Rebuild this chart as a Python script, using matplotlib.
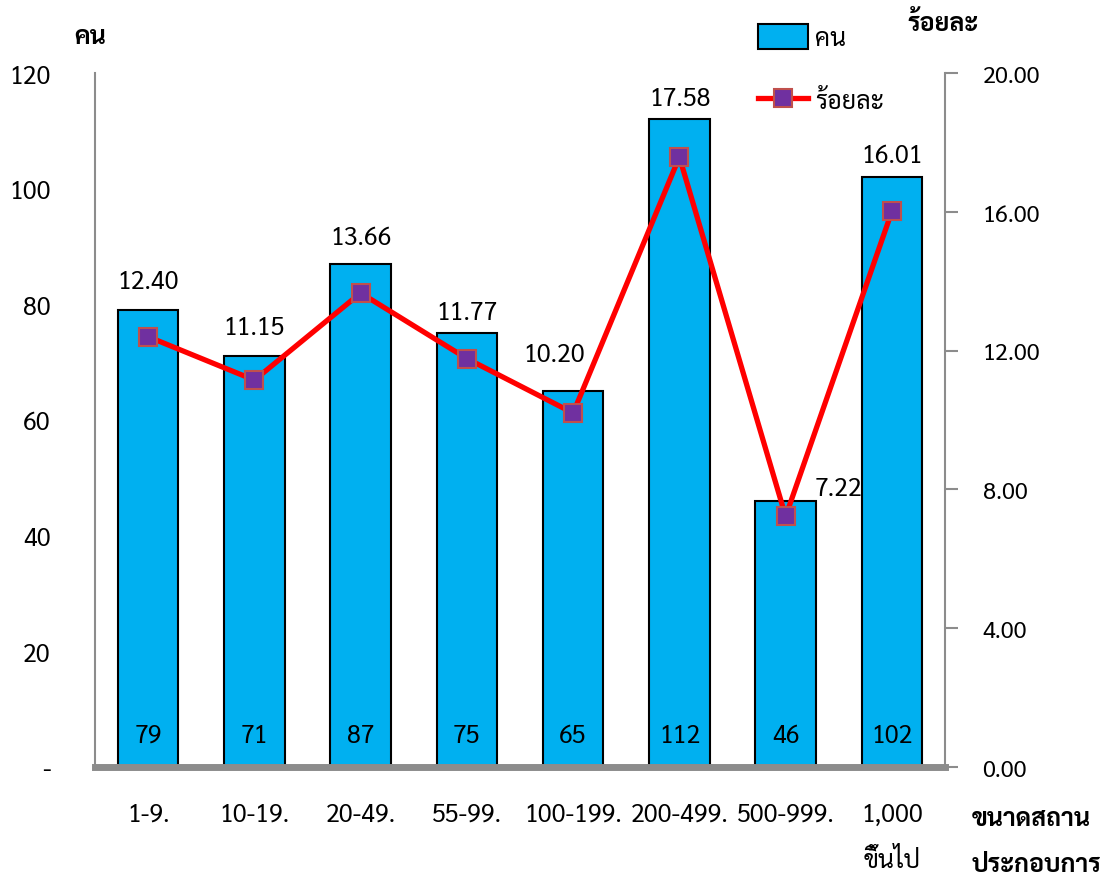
import matplotlib
matplotlib.use("Agg")
import matplotlib.pyplot as plt
from matplotlib.patches import Patch
from matplotlib.lines import Line2D
from matplotlib.ticker import FuncFormatter

plt.rcParams['font.family'] = ['Sarabun', 'DejaVu Sans']

# ข้อมูล
sizes = ["1-9.", "10-19.", "20-49.", "55-99.", "100-199.", "200-499.", "500-999.", "1,000\nขึ้นไป"]
persons = [79, 71, 87, 75, 65, 112, 46, 102]
percent = [12.40, 11.15, 13.66, 11.77, 10.20, 17.58, 7.22, 16.01]

# ตำแหน่งป้ายร้อยละ (points) เทียบกับจุดบนเส้น
pct_label_offset = [(0, 40), (0, 38), (0, 40), (0, 33), (-14, 42), (0, 42), (38, 20), (0, 40)]

bar_color = "#00B0F0"
line_color = "#FF0000"
spine_gray = "#8C8C8C"

fig, ax = plt.subplots(figsize=(11.09, 8.79), dpi=100)
fig.subplots_adjust(left=95 / 1109, right=945 / 1109, top=1 - 74 / 879, bottom=1 - 768 / 879)

x = list(range(len(sizes)))
ax.bar(x, persons, width=0.57, color=bar_color, edgecolor="black", linewidth=1.5, zorder=2)
ax.set_xlim(-0.5, len(sizes) - 0.5)
ax.set_ylim(0, 120)
ax.set_yticks(range(0, 121, 20))
ax.yaxis.set_major_formatter(FuncFormatter(lambda v, p: "-" if v == 0 else f"{v:.0f}"))
ax.set_xticks(x)
ax.set_xticklabels(sizes, fontsize=18, linespacing=2.1, va="top")
ax.tick_params(axis="x", length=0, pad=25)
ax.tick_params(axis="y", length=0, pad=32, labelsize=18)

for side in ["top", "right"]:
    ax.spines[side].set_visible(False)
ax.spines["left"].set_color(spine_gray)
ax.spines["left"].set_linewidth(1.5)
ax.spines["bottom"].set_color(spine_gray)
ax.spines["bottom"].set_linewidth(5)
ax.spines["bottom"].set_zorder(3)

for i, v in enumerate(persons):
    ax.text(i, 5.5, str(v), ha="center", va="center", fontsize=18, zorder=4)

ax2 = ax.twinx()
ax2.plot(x, percent, color=line_color, linewidth=3.8, marker="s", markersize=13,
         markerfacecolor="#7030A0", markeredgecolor="#C0504D", markeredgewidth=1.5, zorder=5)
ax2.set_ylim(0, 20)
ax2.set_yticks([0, 4, 8, 12, 16, 20])
ax2.yaxis.set_major_formatter(FuncFormatter(lambda v, p: f"{v:.2f}"))
ax2.tick_params(axis="y", direction="out", length=9, width=1.5, color=spine_gray, pad=18, labelsize=17)
for side in ["top", "left", "bottom"]:
    ax2.spines[side].set_visible(False)
ax2.spines["right"].set_color(spine_gray)
ax2.spines["right"].set_linewidth(1.5)

for i, p in enumerate(percent):
    ax2.annotate(f"{p:.2f}", xy=(i, p), xytext=pct_label_offset[i], textcoords="offset points",
                 ha="center", va="center", fontsize=18)

# หัวแกน
fig.text(90 / 1109, 1 - 38 / 879, "คน", ha="center", va="center", fontsize=18, fontweight="bold")
fig.text(943 / 1109, 1 - 25 / 879, "ร้อยละ", ha="center", va="center", fontsize=18, fontweight="bold")
fig.text(972 / 1109, 1 - 820 / 879, "ขนาดสถาน", ha="left", va="center", fontsize=18, fontweight="bold")
fig.text(972 / 1109, 1 - 866 / 879, "ประกอบการ", ha="left", va="center", fontsize=18, fontweight="bold")

handles = [
    Patch(facecolor=bar_color, edgecolor="black", linewidth=1.5),
    Line2D([], [], color=line_color, linewidth=3.8, marker="s", markersize=13,
           markerfacecolor="#7030A0", markeredgecolor="#C0504D", markeredgewidth=1.5),
]
fig.legend(handles, ["คน", "ร้อยละ"], loc="upper left", bbox_to_anchor=(735 / 1109, 1 - 2 / 879),
           frameon=False, fontsize=18, handlelength=2.0, handleheight=1.2, handletextpad=0.3,
           labelspacing=1.45)

fig.savefig("out.png", dpi=100)
